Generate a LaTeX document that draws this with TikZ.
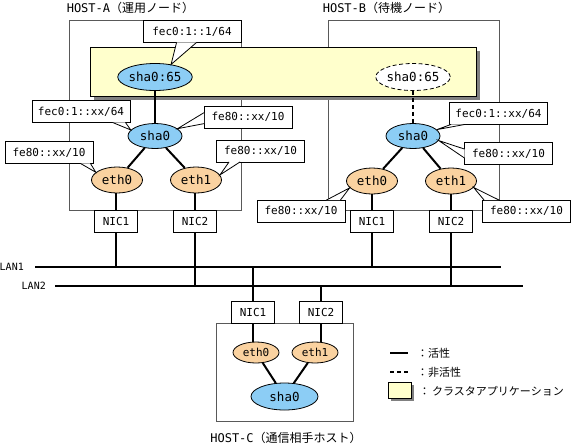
\documentclass[tikz,border=0pt]{standalone}
\usepackage{fontspec}
\setmainfont{DejaVu Sans Mono}
\newfontfamily\jp{Noto Sans CJK JP}
\usetikzlibrary{shapes.geometric,shadows}
\definecolor{shablue}{RGB}{140,205,245}
\definecolor{ethpeach}{RGB}{250,210,160}
\definecolor{appyellow}{RGB}{255,255,204}
\begin{document}
\begin{tikzpicture}[x=1pt,y=-1pt,
  hostbox/.style={draw=black!65,line width=0.8pt,inner sep=0pt},
  appbox/.style={draw=black,fill=appyellow,line width=0.6pt,inner sep=0pt,
    drop shadow={shadow xshift=#1,shadow yshift=-#1,fill=black!50,opacity=1}},
  appbox/.default=4pt,
  ifsha/.style={ellipse,draw,fill=shablue,line width=0.8pt,inner sep=0pt,
    minimum width=54pt,minimum height=25pt,font=\fontsize{12.5}{14}\selectfont},
  ifeth/.style={ifsha,fill=ethpeach,minimum width=51pt,minimum height=26pt},
  nicbox/.style={draw,fill=white,line width=0.8pt,inner sep=0pt,
    minimum width=43pt,minimum height=22pt,font=\fontsize{11}{13}\selectfont},
  addr/.style={nicbox,minimum width=88pt},
  tail/.style={draw,fill=white,line width=0.8pt},
  link/.style={line width=2pt},
  offlink/.style={link,dash pattern=on 4pt off 3pt}]
\useasboundingbox (0,0) rectangle (572,445);
\node[hostbox,minimum width=172pt,minimum height=190pt] (hostA) at (155,115) {};
\node[hostbox,minimum width=171pt,minimum height=190pt] (hostB) at (413.5,115) {};
\node[hostbox,minimum width=137pt,minimum height=98pt] (hostC) at (284.5,372) {};
\node[anchor=base west,inner sep=0pt,font=\fontsize{12}{14}\selectfont] (hostAlbl) at ([shift={(-2,-7)}]hostA.north west) {HOST-A{\jp （運用ノード）}};
\node[anchor=base west,inner sep=0pt,font=\fontsize{12}{14}\selectfont] (hostBlbl) at ([shift={(-5,-7)}]hostB.north west) {HOST-B{\jp （待機ノード）}};
\node[anchor=base,inner sep=0pt,font=\fontsize{12}{14}\selectfont] (hostClbl) at ([shift={(1.5,21)}]hostC.south) {HOST-C{\jp （通信相手ホスト）}};
\node[appbox,minimum width=386pt,minimum height=49pt] (app) at (283,71.5) {};
\node[ifsha,minimum width=70pt,minimum height=27pt] (shaA65) at (155,77) {sha0:65};
\node[ifsha,fill=white,dash pattern=on 4pt off 2.5pt,minimum width=70pt,minimum height=27pt] (shaB65) at (413,77) {sha0:65};
\node[ifsha] (shaA) at (155,136) {sha0};
\node[ifsha] (shaB) at (413,136) {sha0};
\node[ifeth] (ethA0) at (117,180) {eth0};
\node[ifeth] (ethA1) at (196,180) {eth1};
\node[ifeth] (ethB0) at (372,181) {eth0};
\node[ifeth] (ethB1) at (451,181) {eth1};
\node[nicbox] (nicA1) at (116,221) {NIC1};
\node[nicbox] (nicA2) at (195,221) {NIC2};
\node[nicbox] (nicB1) at (372,221) {NIC1};
\node[nicbox] (nicB2) at (451,221) {NIC2};
\node[nicbox] (nicC1) at (253,312) {NIC1};
\node[nicbox] (nicC2) at (321,312) {NIC2};
\node[ifeth,minimum width=46pt,minimum height=21pt,font=\fontsize{11}{13}\selectfont] (ethC0) at (256,352.5) {eth0};
\node[ifeth,minimum width=46pt,minimum height=21pt,font=\fontsize{11}{13}\selectfont] (ethC1) at (315,352.5) {eth1};
\node[ifsha,minimum width=67pt,minimum height=27pt] (shaC) at (284.5,396.5) {sha0};
\node[addr,minimum width=98pt] (adrA1) at (192,31.5) {fec0:1::1/64};
\node[addr,minimum width=98pt] (adrA2) at (81,111.5) {fec0:1::xx/64};
\node[addr] (adrA3) at (248,117) {fe80::xx/10};
\node[addr] (adrA4) at (49,152.5) {fe80::xx/10};
\node[addr] (adrA5) at (260.5,151) {fe80::xx/10};
\node[addr,minimum width=98pt] (adrB1) at (498.5,113.5) {fec0:1::xx/64};
\node[addr] (adrB2) at (508.5,153.5) {fe80::xx/10};
\node[addr] (adrB3) at (301,211) {fe80::xx/10};
\node[addr] (adrB4) at (526.5,211) {fe80::xx/10};
\draw[tail] ([shift={(34,-0.5)}]adrA1.south west) -- (shaA65.38) -- ([shift={(54,-0.5)}]adrA1.south west);
\draw[tail] ([shift={(-18,-0.5)}]adrA2.south east) -- (shaA.166) -- ([shift={(-5,-0.5)}]adrA2.south east);
\draw[tail] ([shift={(0.5,7)}]adrA3.north west) -- (shaA.18) -- ([shift={(0.5,18)}]adrA3.north west);
\draw[tail] ([shift={(-13,-0.5)}]adrA4.south east) -- (ethA0.160) -- ([shift={(-3,-0.5)}]adrA4.south east);
\draw[tail] ([shift={(13,-0.5)}]adrA5.south west) -- (ethA1.12) -- ([shift={(24,-0.5)}]adrA5.south west);
\draw[tail] ([shift={(2,-0.5)}]adrB1.south west) -- (shaB.15) -- ([shift={(16,-0.5)}]adrB1.south west);
\draw[tail] ([shift={(0.5,7)}]adrB2.north west) -- (shaB.-10) -- ([shift={(0.5,16)}]adrB2.north west);
\draw[tail] ([shift={(-19,0.5)}]adrB3.north east) -- (ethB0.197) -- ([shift={(-5,0.5)}]adrB3.north east);
\draw[tail] ([shift={(2,0.5)}]adrB4.north west) -- (ethB1.-16) -- ([shift={(17,0.5)}]adrB4.north west);
\draw[link] (shaA65) -- (shaA);
\draw[offlink] (shaB65) -- (shaB);
\draw[link] (shaA) -- (ethA0);
\draw[link] (shaA) -- (ethA1);
\draw[link] (shaB) -- (ethB0);
\draw[link] (shaB) -- (ethB1);
\draw[link] (shaC) -- (ethC0);
\draw[link] (shaC) -- (ethC1);
\draw[link] (nicA1.north) -- (nicA1.north |- ethA0.south);
\draw[link] (nicA2.north) -- (nicA2.north |- ethA1.south);
\draw[link] (nicB1.north) -- (nicB1.north |- ethB0.south);
\draw[link] (nicB2.north) -- (nicB2.north |- ethB1.south);
\draw[link] (nicC1.south) -- (nicC1.south |- ethC0.north);
\draw[link] (nicC2.south) -- (nicC2.south |- ethC1.north);
\coordinate (lan1w) at (35,267);
\coordinate (lan1e) at (501,267);
\coordinate (lan2w) at (55,286);
\coordinate (lan2e) at (523,286);
\draw[link] (lan1w) -- (lan1e);
\draw[link] (lan2w) -- (lan2e);
\node[anchor=east,inner sep=0pt,font=\fontsize{10}{12}\selectfont] (lan1lbl) at ([xshift=-11pt]lan1w) {LAN1};
\node[anchor=east,inner sep=0pt,font=\fontsize{10}{12}\selectfont] (lan2lbl) at ([xshift=-9pt]lan2w) {LAN2};
\draw[link] (nicA1.south) -- (nicA1.south |- lan1w);
\draw[link] (nicA2.south) -- (nicA2.south |- lan2w);
\draw[link] (nicB1.south) -- (nicB1.south |- lan1w);
\draw[link] (nicB2.south) -- (nicB2.south |- lan2w);
\draw[link] (nicC1.north) -- (nicC1.north |- lan1w);
\draw[link] (nicC2.north) -- (nicC2.north |- lan2w);
\coordinate (keyonA) at (390,353);
\coordinate (keyonB) at (408,353);
\coordinate (keyoffA) at (390,372);
\coordinate (keyoffB) at (408,372);
\draw[link] (keyonA) -- (keyonB);
\draw[offlink] (keyoffA) -- (keyoffB);
\node[appbox=3pt,minimum width=23pt,minimum height=16pt] (keyapp) at (399.5,390) {};
\node[anchor=west,inner sep=0pt,font=\fontsize{11}{13}\jp] (keyonlbl) at (417,353) {：活性};
\node[anchor=west,inner sep=0pt,font=\fontsize{11}{13}\jp] (keyofflbl) at (417,372) {：非活性};
\node[anchor=west,inner sep=0pt,font=\fontsize{11}{13}\jp] (keyapplbl) at (419,391) {：\hspace{2pt}クラスタアプリケーション};
\end{tikzpicture}
\end{document}
